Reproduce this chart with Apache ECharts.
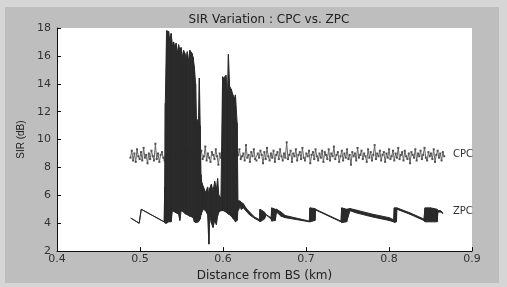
<!DOCTYPE html>
<html>
<head>
<meta charset="utf-8">
<script src="https://cdn.jsdelivr.net/npm/echarts@6/dist/echarts.min.js"></script>
<style>
  html, body { margin: 0; padding: 0; background: #d6d6d6; }
  #chart { width: 507px; height: 287px; }
</style>
</head>
<body>
<div id="chart"></div>
<script>
const cpcStart = 0.4885;
const cpcEnd = 0.8665;
const cpcValues = [
  8.7, 9.2, 8.5, 9.0, 8.4, 9.3, 8.8, 8.6, 9.1, 8.5, 9.4, 8.7, 8.9, 8.3, 9.0, 8.6,
  9.2, 8.8, 8.5, 9.7, 8.6, 9.0, 8.4, 8.9, 9.1, 8.7, 8.5, 9.2, 8.8, 9.0, 8.6, 9.3,
  8.4, 8.9, 9.1, 8.6, 8.8, 9.3, 8.5, 9.0, 8.7, 9.4, 8.3, 8.9, 9.1, 8.6, 9.2, 8.8,
  8.5, 9.0, 8.7, 9.3, 8.4, 8.9, 9.2, 8.6, 8.8, 9.5, 8.5, 9.0, 8.7, 8.4, 9.1, 8.9,
  8.6, 9.3, 8.8, 8.2, 9.0, 8.7, 9.2, 8.5, 8.9, 9.1, 8.6, 9.4, 8.8, 8.5, 9.0, 8.7,
  9.2, 8.4, 8.9, 9.3, 8.6, 8.8, 9.0, 8.5, 9.6, 8.7, 8.9, 8.4, 9.1, 8.8, 9.3, 8.6,
  8.5, 9.0, 8.7, 9.2, 8.9, 8.3, 9.1, 8.6, 9.4, 8.8, 8.5, 9.0, 8.7, 9.2, 8.4, 8.9,
  9.1, 8.6, 9.3, 8.8, 8.5, 9.0, 8.7, 9.8, 8.6, 8.9, 9.2, 8.4, 9.0, 8.8, 9.3, 8.5,
  8.9, 9.1, 8.6, 9.4, 8.7, 8.5, 9.0, 8.8, 9.2, 8.3, 8.9, 9.1, 8.6, 9.3, 8.8, 8.5,
  9.0, 8.7, 9.2, 8.4, 9.1, 8.9, 8.6, 9.3, 8.5, 9.0, 8.8, 9.5, 8.6, 8.9, 9.1, 8.4,
  8.8, 9.2, 8.5, 9.0, 8.7, 9.3, 8.6, 8.9, 8.2, 9.1, 8.8, 9.0, 8.5, 9.4, 8.7, 8.9,
  9.2, 8.6, 9.0, 8.8, 8.4, 9.3, 8.7, 9.1, 8.5, 8.9, 9.6, 8.6, 9.0, 8.8, 9.2, 8.5,
  8.9, 9.1, 8.4, 9.0, 8.7, 9.3, 8.6, 8.8, 9.2, 8.5, 9.0, 8.7, 9.4, 8.6, 8.9, 9.1,
  8.5, 9.2, 8.8, 8.6, 9.0, 8.3, 9.1, 8.9, 8.7, 9.3, 8.5, 9.0, 8.8, 9.2, 8.6, 8.9,
  9.4, 8.7, 8.5, 9.1, 8.8, 9.0, 8.6, 9.3, 8.4, 8.9, 9.2, 8.7, 9.0, 8.5, 9.1, 8.8
];

// ZPC: distance, lower and upper envelope of the oscillation (equal where it is a plain line)
const zpcX = [
  0.4888, 0.4990, 0.5015, 0.5290,
  0.5298, 0.5305, 0.5320, 0.5345, 0.5360, 0.5375, 0.5390, 0.5405, 0.5420, 0.5435,
  0.5450, 0.5465, 0.5480, 0.5495, 0.5510, 0.5525, 0.5540, 0.5555, 0.5570, 0.5585,
  0.5600, 0.5625, 0.5640, 0.5655, 0.5670, 0.5680, 0.5705, 0.5715, 0.5725, 0.5735,
  0.5745, 0.5765, 0.5790, 0.5815, 0.5830, 0.5840, 0.5860, 0.5880, 0.5900, 0.5920,
  0.5935, 0.5950, 0.5975,
  0.5995, 0.6005, 0.6035, 0.6055, 0.6065, 0.6080, 0.6100, 0.6120, 0.6135, 0.6150,
  0.6170, 0.6180,
  0.6190, 0.6205, 0.6220, 0.6245, 0.6275, 0.6320, 0.6380, 0.6440,
  0.6446, 0.6500, 0.6520, 0.6580,
  0.6586, 0.6630, 0.6645, 0.6700, 0.6750, 0.7040,
  0.7048, 0.7108, 0.7115, 0.7420,
  0.7430, 0.7490, 0.7530, 0.7600, 0.7800, 0.8000, 0.8055,
  0.8064, 0.8090, 0.8095, 0.8250, 0.8420,
  0.8434, 0.8500, 0.8580, 0.8590, 0.8620, 0.8650
];
const zpcLow = [
  4.37, 4.00, 5.00, 4.10,
  4.05, 4.0, 4.0, 4.1, 4.1, 4.1, 4.9, 4.85, 4.8, 4.75,
  4.7, 4.65, 4.2, 4.9, 4.85, 4.8, 4.7, 4.65, 4.6, 4.55,
  4.5, 4.45, 4.4, 4.1, 4.05, 4.05, 4.1, 4.2, 4.3, 4.6,
  4.8, 5.0, 4.9, 4.6, 2.5, 4.6, 4.0, 3.7, 4.2, 3.9,
  4.5, 4.8, 4.9,
  4.9, 4.9, 4.8, 4.7, 4.65, 4.6, 4.5, 4.35, 4.25, 4.1,
  4.2, 4.9,
  5.0, 5.3, 5.0, 5.1, 4.9, 4.6, 4.35, 4.15,
  4.1, 4.3, 4.6, 4.3,
  4.15, 4.2, 4.8, 4.5, 4.4, 4.1,
  4.1, 4.2, 4.95, 4.1,
  4.05, 4.1, 4.9, 4.75, 4.45, 4.2, 4.1,
  4.05, 4.1, 5.0, 4.65, 4.2,
  4.1, 4.1, 4.1, 4.8, 4.8, 4.7
];
const zpcHigh = [
  4.37, 4.00, 5.00, 4.10,
  6.6, 12.6, 17.8, 17.75, 17.0, 17.6, 16.8, 17.0, 16.6, 16.9,
  16.2, 16.8, 16.4, 16.6, 15.9, 16.4, 16.2, 15.8, 16.3, 15.6,
  16.4, 16.2, 15.9, 15.2, 14.0, 11.5, 11.3, 14.4, 11.0, 7.5,
  6.9, 6.6, 6.2, 6.6, 6.0, 6.5, 6.8, 6.3, 7.0, 6.4,
  7.2, 6.0, 5.8,
  14.5, 14.4, 14.6, 13.2, 16.1, 13.8, 13.6, 13.2, 12.9, 13.2,
  11.2, 5.6,
  5.6, 5.6, 5.5, 5.4, 5.1, 4.8, 4.45, 4.25,
  5.0, 4.8, 4.6, 4.4,
  5.1, 5.0, 5.0, 4.8, 4.55, 4.15,
  5.1, 5.05, 5.0, 4.15,
  5.1, 5.0, 5.05, 4.95, 4.65, 4.4, 4.25,
  5.1, 5.1, 5.1, 4.75, 4.3,
  5.1, 5.1, 5.0, 4.9, 4.9, 4.75
];

const cpcData = cpcValues.map((v, i) => [cpcStart + i * (cpcEnd - cpcStart) / (cpcValues.length - 1), v]);
const zpcData = zpcX.map((x, i) => [x, zpcLow[i], zpcHigh[i]]);

const font = "'DejaVu Sans', sans-serif";
const ink = '#2a2a2a';

var chartDom = document.getElementById('chart');
var myChart = echarts.init(chartDom);

var option = {
  animation: false,
  backgroundColor: '#d6d6d6',
  title: {
    text: 'SIR Variation : CPC vs. ZPC',
    left: 264,
    textAlign: 'center',
    top: 9,
    textStyle: { fontFamily: font, fontSize: 12, fontWeight: 'normal', color: '#222' }
  },
  grid: {
    left: 57, right: 35, top: 28, bottom: 29,
    show: true, backgroundColor: '#ffffff', borderWidth: 0
  },
  xAxis: {
    type: 'value',
    min: 0.4, max: 0.9, interval: 0.1,
    name: 'Distance from BS (km)',
    nameLocation: 'middle',
    nameGap: 15,
    nameTextStyle: { fontFamily: font, fontSize: 12, color: '#222' },
    axisLine: { show: true, lineStyle: { color: '#111', width: 1 } },
    axisTick: { show: true, inside: true, length: 4, lineStyle: { color: '#111' } },
    axisLabel: { fontFamily: font, fontSize: 11, color: '#333', margin: 3, formatter: v => v.toFixed(1) },
    splitLine: { show: false }
  },
  yAxis: {
    type: 'value',
    min: 2, max: 18, interval: 2,
    name: 'SIR (dB)',
    nameLocation: 'middle',
    nameGap: 28,
    nameRotate: 90,
    nameTextStyle: { fontFamily: "'Liberation Sans', Arial, sans-serif", fontSize: 10, color: '#222' },
    axisLine: { show: true, lineStyle: { color: '#111', width: 1 } },
    axisTick: { show: true, inside: true, length: 4, lineStyle: { color: '#111' } },
    axisLabel: { fontFamily: font, fontSize: 11, color: '#333', margin: 6 },
    splitLine: { show: false }
  },
  series: [
    {
      name: 'CPC',
      type: 'line',
      z: 2,
      data: cpcData,
      showSymbol: true,
      showAllSymbol: true,
      symbol: 'rect',
      symbolSize: 2,
      itemStyle: { color: '#505050' },
      lineStyle: { color: '#666', width: 1 }
    },
    {
      name: 'ZPC',
      type: 'custom',
      z: 3,
      data: zpcData,
      clip: true,
      renderItem: function (params, api) {
        const i = params.dataIndex;
        if (i >= zpcData.length - 1) return null;
        const n = zpcData[i + 1];
        const a = api.coord([api.value(0), api.value(1)]);
        const b = api.coord([api.value(0), api.value(2)]);
        const c = api.coord([n[0], n[2]]);
        const d = api.coord([n[0], n[1]]);
        return {
          type: 'polygon',
          shape: { points: [a, b, c, d] },
          style: { fill: ink, stroke: ink, lineWidth: 1 }
        };
      }
    }
  ]
};

myChart.setOption(option);

// curve names to the right of the line ends
const cpcPos = myChart.convertToPixel({ gridIndex: 0 }, [0.877, 8.9]);
const zpcPos = myChart.convertToPixel({ gridIndex: 0 }, [0.877, 4.85]);
myChart.setOption({
  graphic: [
    { type: 'rect', z: -10, silent: true, shape: { x: 5, y: 7, width: 494, height: 276 }, style: { fill: '#bebebe' } },
    { type: 'text', x: cpcPos[0], y: cpcPos[1], style: { text: 'CPC', fontFamily: font, fontSize: 10, fill: '#333', verticalAlign: 'middle' } },
    { type: 'text', x: zpcPos[0], y: zpcPos[1], style: { text: 'ZPC', fontFamily: font, fontSize: 10, fill: '#333', verticalAlign: 'middle' } }
  ]
});
</script>
</body>
</html>
